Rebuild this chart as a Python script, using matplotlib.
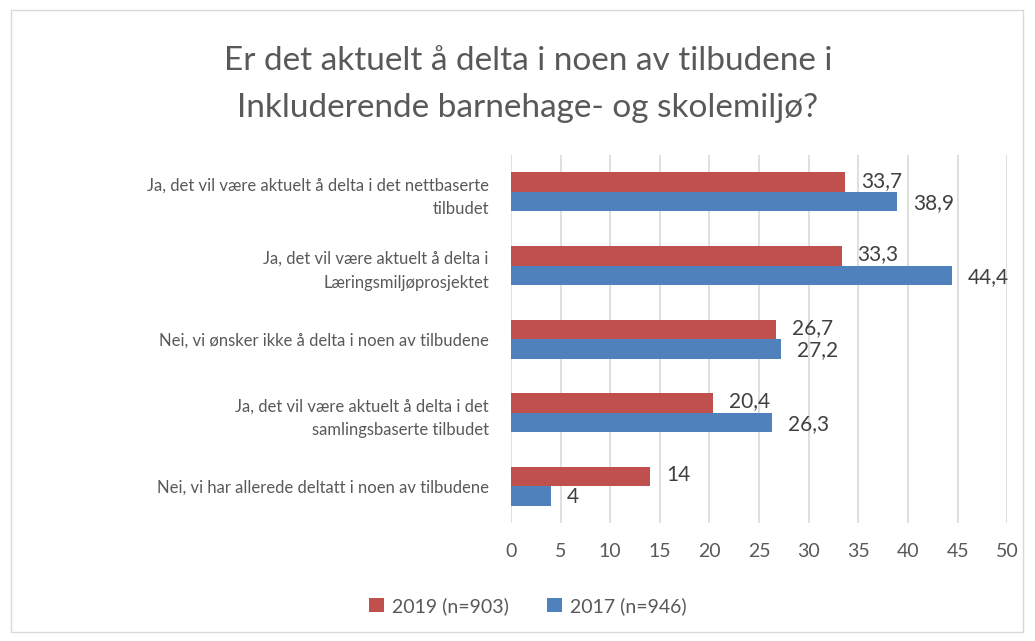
import matplotlib.pyplot as plt
import numpy as np
from matplotlib.patches import Rectangle

plt.rcParams['font.family'] = ['Lato', 'DejaVu Sans']

# Data
categories = [
    "Ja, det vil være aktuelt å delta i det nettbaserte\ntilbudet",
    "Ja, det vil være aktuelt å delta i\nLæringsmiljøprosjektet",
    "Nei, vi ønsker ikke å delta i noen av tilbudene",
    "Ja, det vil være aktuelt å delta i det\nsamlingsbaserte tilbudet",
    "Nei, vi har allerede deltatt i noen av tilbudene",
]
values_2019 = [33.7, 33.3, 26.7, 20.4, 14]
values_2017 = [38.9, 44.4, 27.2, 26.3, 4]
labels_2019 = ["33,7", "33,3", "26,7", "20,4", "14"]
labels_2017 = ["38,9", "44,4", "27,2", "26,3", "4"]
series_names = ["2019 (n=903)", "2017 (n=946)"]

RED = "#C0504D"
BLUE = "#4F81BD"
TXT = "#595959"

fig = plt.figure(figsize=(10.35, 6.41), dpi=100)
ax = fig.add_axes([0.4937, 0.184, 0.4795, 0.574])

# Outer chart border
fig.patches.append(Rectangle((0.011, 0.014), 0.977, 0.97, transform=fig.transFigure,
                             fill=False, edgecolor="#D9D9D9", linewidth=1.0))

y = np.arange(len(categories))
h = 0.265
bars19 = ax.barh(y - h / 2, values_2019, height=h, color=RED, label=series_names[0], zorder=3)
bars17 = ax.barh(y + h / 2, values_2017, height=h, color=BLUE, label=series_names[1], zorder=3)

for b, lab in zip(bars19, labels_2019):
    ax.text(b.get_width() + 1.6, b.get_y() + b.get_height() / 2 - 0.02, lab,
            va="center", ha="left", fontsize=15, color="#404040")
for b, lab in zip(bars17, labels_2017):
    ax.text(b.get_width() + 1.6, b.get_y() + b.get_height() / 2 + 0.02, lab,
            va="center", ha="left", fontsize=15, color="#404040")

ax.set_xlim(0, 50)
ax.set_xticks(np.arange(0, 51, 5))
ax.set_ylim(len(categories) - 0.5, -0.5)
ax.set_yticks(y)
ax.set_yticklabels(categories, fontsize=12, color=TXT, linespacing=1.6)
ax.tick_params(axis="x", labelsize=14, colors=TXT, length=0, pad=14)
ax.tick_params(axis="y", length=0, pad=16)
ax.xaxis.grid(True, color="#D9D9D9", linewidth=1.2, zorder=0)
for s in ax.spines.values():
    s.set_visible(False)

fig.suptitle("Er det aktuelt å delta i noen av tilbudene i\nInkluderende barnehage- og skolemiljø?",
             x=0.51, y=0.928, fontsize=24, color=TXT, linespacing=1.7)

fig.legend(loc="center", bbox_to_anchor=(0.51, 0.055), ncol=2, frameon=False,
           fontsize=14, labelcolor=TXT, handlelength=0.75, handleheight=0.75,
           handletextpad=0.4, columnspacing=2.0)

fig.savefig("out.png", dpi=100)
